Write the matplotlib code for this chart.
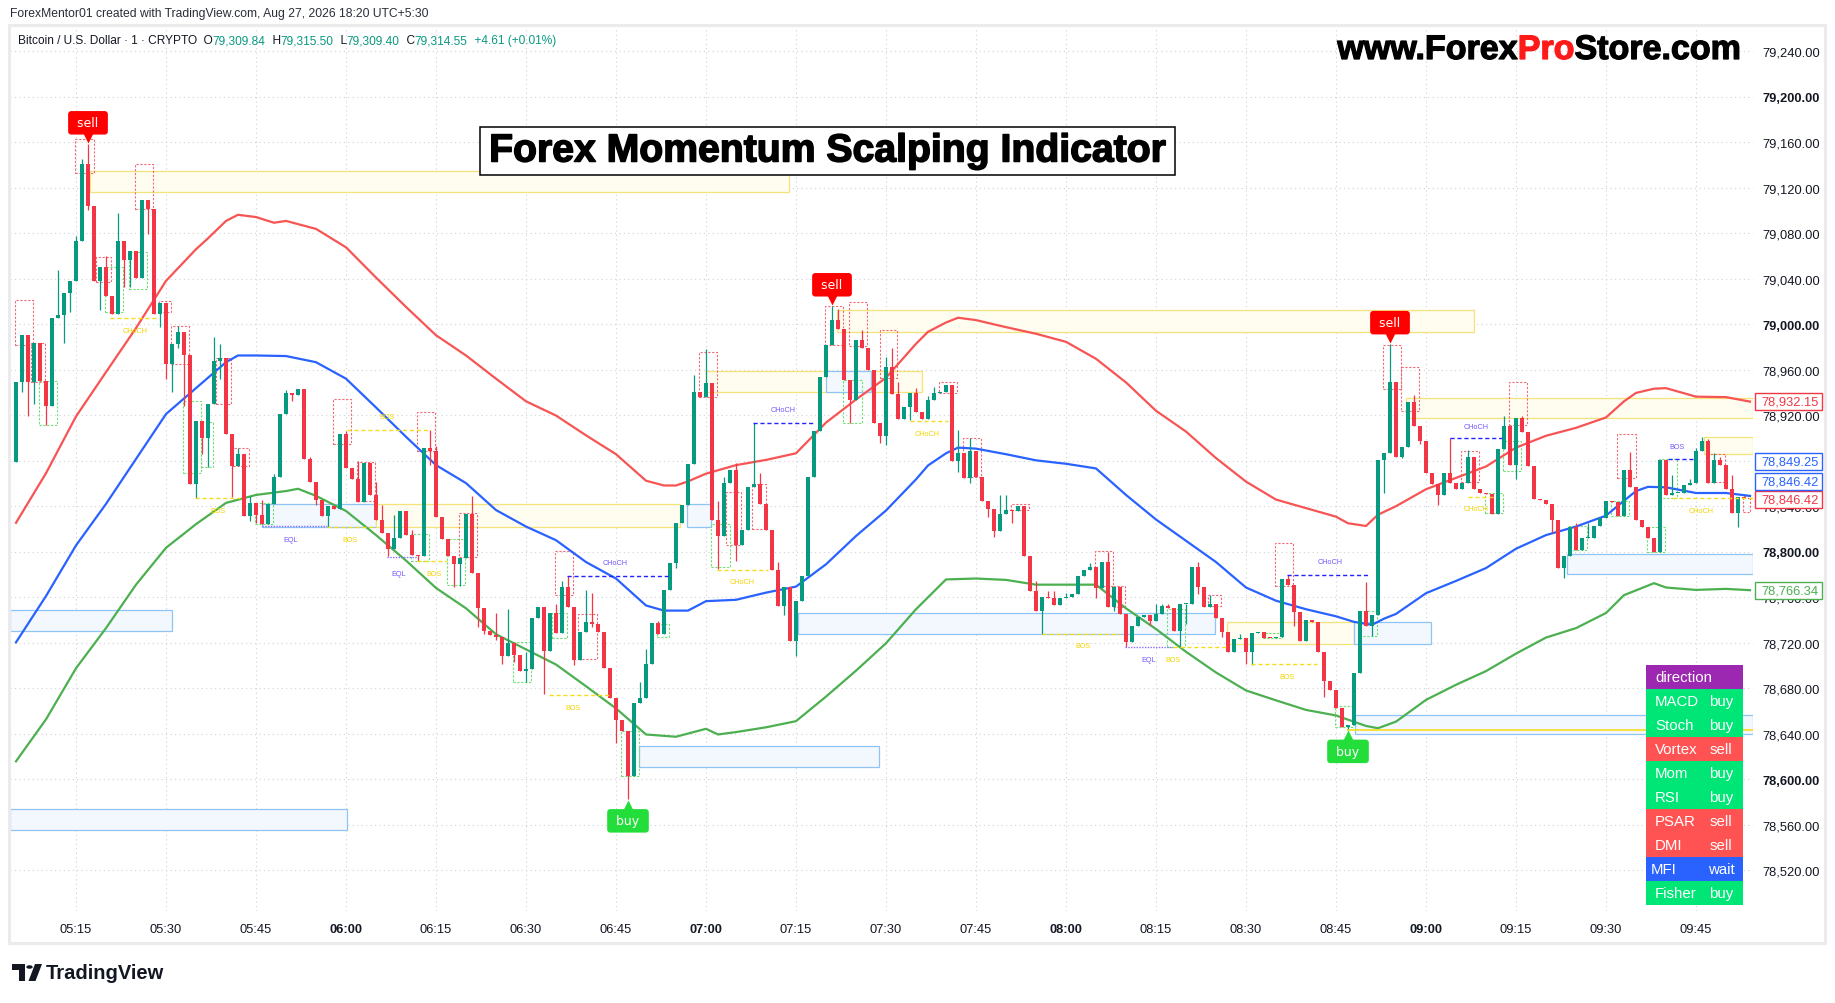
import matplotlib
matplotlib.use("Agg")
import matplotlib.pyplot as plt
import matplotlib.transforms as mtransforms
import matplotlib.patheffects as pe
from matplotlib.patches import Rectangle, Polygon, Circle

plt.rcParams['font.family'] = ['Liberation Sans Narrow', 'Liberation Sans', 'DejaVu Sans']

# ---------------------------------------------------------------- data
first_bar = -10            # bar index of the first candle (0 = 05:15, 1 bar = 1 minute)
first_open = 78879.2

closes = [
    78949.0, 78990.5, 78949.0, 78983.5, 78950.2, 78928.2, 79005.9, 79008.0, 79027.9, 79038.3,
    79073.6, 79141.3, 79104.3, 79037.9, 79050.7, 79024.6, 79009.2, 79073.6, 79057.0, 79064.5,
    79041.2, 79109.7, 79101.8, 79009.2, 79018.8, 78965.6, 78983.0, 78993.0, 78972.7, 78859.7,
    78914.9, 78900.4, 78930.3, 78967.7, 78970.2, 78904.1, 78875.5, 78885.9, 78831.4, 78842.6,
    78832.7, 78824.4, 78842.2, 78865.9, 78921.6, 78939.4, 78938.2, 78942.8, 78881.3, 78861.8,
    78846.0, 78831.4, 78840.2, 78837.7, 78903.3, 78874.2, 78863.8, 78844.3, 78878.4, 78850.1,
    78828.5, 78816.9, 78802.8, 78811.9, 78836.0, 78815.2, 78797.4, 78796.1, 78891.7, 78888.8,
    78830.6, 78811.1, 78796.1, 78789.1, 78794.5, 78833.5, 78781.6, 78750.9, 78730.9, 78726.8,
    78725.5, 78708.9, 78719.7, 78709.3, 78695.6, 78697.3, 78742.1, 78751.3, 78713.1, 78746.3,
    78728.8, 78769.5, 78751.7, 78704.8, 78729.7, 78738.0, 78736.3, 78729.7, 78697.7, 78671.9,
    78652.0, 78642.4, 78603.0, 78667.4, 78671.5, 78701.8, 78737.2, 78728.0, 78766.2, 78790.3,
    78825.6, 78841.0, 78877.5, 78940.7, 78936.5, 78948.2, 78828.5, 78814.0, 78860.9, 78872.1,
    78805.7, 78819.4, 78856.8, 78859.7, 78841.8, 78819.4, 78784.1, 78752.5, 78769.1, 78721.8,
    78757.1, 78778.7, 78865.9, 78906.6, 78954.0, 78982.2, 79004.2, 78995.9, 78951.1, 78933.2,
    78986.4, 78978.9, 78960.2, 78913.3, 78901.6, 78962.7, 78938.6, 78916.6, 78927.4, 78939.8,
    78923.2, 78916.6, 78933.6, 78939.8, 78940.7, 78946.9, 78879.6, 78886.7, 78864.7, 78888.8,
    78865.9, 78845.1, 78837.7, 78818.2, 78833.5, 78836.8, 78836.0, 78840.2, 78796.1, 78765.4,
    78748.4, 78760.8, 78759.2, 78752.9, 78759.2, 78760.8, 78763.3, 78778.7, 78784.1, 78787.0,
    78768.3, 78791.1, 78751.7, 78769.5, 78745.5, 78720.5, 78735.1, 78742.6, 78744.2, 78739.2,
    78745.5, 78752.5, 78750.4, 78730.9, 78753.8, 78754.6, 78787.0, 78769.5, 78751.7, 78754.6,
    78742.1, 78729.7, 78712.2, 78723.4, 78724.7, 78712.2, 78728.8, 78729.7, 78724.7, 78724.3,
    78725.5, 78776.6, 78771.2, 78747.5, 78721.4, 78740.5, 78738.0, 78712.2, 78686.5, 78679.0,
    78663.2, 78645.8, 78647.8, 78693.5, 78748.4, 78735.1, 78744.2, 78880.5, 78886.7, 78949.8,
    78883.8, 78892.1, 78931.5, 78910.8, 78897.1, 78869.2, 78859.7, 78850.1, 78869.2, 78860.9,
    78855.5, 78860.5, 78883.8, 78855.1, 78851.4, 78851.0, 78833.5, 78890.8, 78910.8, 78876.3,
    78917.8, 78905.4, 78875.9, 78846.4, 78846.0, 78841.8, 78827.7, 78785.8, 78796.1, 78821.5,
    78801.5, 78811.9, 78812.3, 78823.1, 78829.8, 78845.1, 78844.3, 78831.4, 78872.1, 78856.8,
    78828.5, 78821.5, 78811.9, 78799.5, 78880.5, 78850.1, 78851.4, 78852.2, 78858.4, 78860.5,
    78888.8, 78897.1, 78860.9, 78880.5, 78876.3, 78855.5, 78833.9, 78848.5, 78847.2, 78846.42,
]

wick_highs = {
    -3: 79047.8, 0: 79077.7, 1: 79145.5, 2: 79158.7, 5: 79059.9, 7: 79097.7, 17: 78998.8,
    23: 78988.9, 24: 78982.6, 27: 78891.7, 29: 78849.3, 31: 78846.0, 33: 78868.8, 35: 78942.1,
    39: 78883.8, 45: 78906.6, 47: 78880.0, 50: 78861.8, 51: 78841.0, 53: 78832.7, 56: 78819.4,
    59: 78907.4, 60: 78892.9, 66: 78849.3, 70: 78746.3, 72: 78749.6, 75: 78712.2, 80: 78753.8,
    81: 78774.5, 82: 78778.7, 85: 78766.2, 86: 78764.1, 94: 78685.2, 95: 78714.3, 97: 78739.2,
    103: 78955.2, 105: 78978.1, 107: 78845.1, 108: 78865.9, 110: 78878.4, 113: 78913.7,
    114: 78869.2, 117: 78791.1, 126: 79016.3, 127: 79013.4, 131: 78994.7, 135: 78971.8,
    136: 78978.9, 137: 78949.0, 140: 78944.0, 142: 78937.4, 143: 78944.8, 147: 78907.4,
    149: 78900.0, 154: 78850.1, 155: 78850.1, 160: 78774.5, 162: 78765.4, 163: 78765.4,
    165: 78764.1, 169: 78790.3, 172: 78800.3, 180: 78753.8, 181: 78754.6, 182: 78754.6,
    187: 78791.1, 189: 78762.1, 194: 78727.6, 202: 78779.5, 215: 78773.7, 219: 78983.0,
    223: 78937.8, 229: 78900.0, 232: 78889.6, 238: 78919.1, 241: 78919.9, 250: 78825.6,
    252: 78825.6, 259: 78887.5, 266: 78868.0, 269: 78863.8, 270: 78891.7, 271: 78900.8,
    272: 78899.1, 273: 78886.7, 274: 78883.8, 276: 78867.2,
}
wick_lows = {
    -9: 78940.7, -8: 78919.1, -7: 78930.3, -5: 78911.6, -2: 78983.9, -1: 79011.3, 2: 79100.2,
    4: 79013.0, 8: 79032.9, 9: 79032.9, 12: 79079.8, 14: 78997.6, 15: 78952.3, 16: 78940.7,
    17: 78979.3, 18: 78928.2, 20: 78847.2, 21: 78885.9, 22: 78875.0, 24: 78952.3, 26: 78848.5,
    29: 78827.3, 30: 78825.6, 36: 78932.4, 40: 78841.0, 42: 78822.3, 52: 78796.1, 57: 78792.0,
    59: 78876.3, 63: 78769.1, 64: 78770.4, 67: 78733.8, 68: 78727.6, 70: 78722.6, 71: 78701.4,
    73: 78703.1, 75: 78685.2, 78: 78674.8, 83: 78700.6, 86: 78733.8, 90: 78632.1, 92: 78582.6,
    100: 78786.2, 107: 78784.9, 110: 78792.0, 118: 78744.2, 120: 78708.1, 129: 78913.7,
    134: 78895.8, 135: 78894.2, 139: 78915.8, 147: 78870.1, 149: 78860.9, 152: 78830.6,
    153: 78812.7, 156: 78825.6, 161: 78727.6, 170: 78759.2, 173: 78748.4, 175: 78716.4,
    179: 78735.9, 184: 78716.4, 185: 78736.3, 187: 78762.9, 191: 78725.5, 195: 78701.8,
    196: 78700.6, 203: 78735.1, 208: 78672.8, 212: 78643.7, 216: 78726.3, 218: 78852.2,
    221: 78882.5, 224: 78895.0, 227: 78841.0, 240: 78863.8, 246: 78816.9, 248: 78777.4,
    277: 78822.3,
}

# band readings: bar index -> price
upper_idx = [-10, -5, 0, 5, 10, 15, 20, 22, 25, 27, 30, 33, 35, 40, 45, 50, 55, 60, 65, 70, 75, 80, 85, 90,
             95, 98, 100, 102, 105, 110, 115, 120, 125, 130, 135, 140, 142, 145, 147, 150, 155, 160, 165,
             170, 175, 180, 185, 190, 195, 200, 205, 210, 212, 215, 217, 220, 225, 230, 235, 240, 245,
             250, 255, 258, 260, 263, 265, 270, 275, 279]
upper_band = [78825.6, 78869.2, 78919.1, 78958.1, 78996.8, 79038.3, 79066.1, 79075.7, 79091.0, 79096.4,
              79094.4, 79089.4, 79091.0, 79084.0, 79067.8, 79041.2, 79015.4, 78990.5, 78972.7, 78952.3,
              78932.4, 78919.9, 78902.5, 78885.9, 78862.6, 78858.4, 78858.4, 78862.0, 78868.8, 78876.3,
              78880.9, 78886.7, 78913.7, 78934.0, 78953.1, 78983.0, 78993.5, 79001.7, 79005.9, 79003.8,
              78997.6, 78991.8, 78984.7, 78969.8, 78949.0, 78924.1, 78905.8, 78882.5, 78861.8, 78846.0,
              78838.5, 78831.0, 78825.2, 78822.8, 78832.7, 78840.2, 78855.1, 78865.1, 78875.1, 78891.7,
              78902.1, 78909.1, 78918.2, 78932.4, 78939.8, 78943.5, 78944.0, 78936.5, 78936.1, 78932.15]
middle_idx = [-10, -5, 0, 5, 10, 15, 20, 25, 27, 30, 35, 40, 45, 50, 55, 60, 65, 70, 75, 80, 85, 90, 95,
              98, 102, 105, 110, 115, 120, 125, 130, 135, 140, 142, 145, 147, 150, 155, 160, 165, 170,
              175, 180, 185, 190, 195, 200, 205, 210, 213, 216, 218, 220, 225, 230, 235, 240, 245, 250,
              255, 258, 260, 262, 265, 270, 275, 279]
middle_band = [78720.5, 78761.2, 78805.7, 78842.2, 78881.7, 78921.2, 78944.0, 78966.8, 78972.7, 78972.7,
               78972.2, 78966.8, 78952.3, 78927.0, 78901.2, 78876.3, 78860.5, 78836.8, 78822.3, 78810.3,
               78791.1, 78776.6, 78752.9, 78748.4, 78748.4, 78756.7, 78757.9, 78764.2, 78769.5, 78789.1,
               78814.0, 78836.4, 78863.8, 78876.0, 78886.7, 78891.7, 78890.8, 78885.9, 78880.5, 78877.5,
               78873.4, 78850.1, 78828.5, 78809.8, 78791.1, 78768.7, 78757.1, 78749.6, 78743.4, 78738.5,
               78735.9, 78741.3, 78745.5, 78763.7, 78774.5, 78785.8, 78802.8, 78814.8, 78822.3, 78831.9,
               78845.0, 78853.5, 78857.2, 78856.8, 78851.8, 78851.8, 78849.25]
lower_idx = [-10, -5, 0, 5, 10, 15, 20, 25, 30, 35, 37, 40, 45, 50, 55, 60, 65, 70, 75, 80, 85, 90, 95,
             100, 105, 107, 110, 115, 120, 125, 130, 135, 140, 145, 150, 155, 160, 165, 170, 175, 180,
             185, 190, 195, 200, 205, 210, 215, 217, 220, 225, 230, 235, 240, 245, 250, 255, 258, 260,
             263, 265, 270, 275, 279]
lower_band = [78615.9, 78652.8, 78697.7, 78733.0, 78771.2, 78803.6, 78824.4, 78843.1, 78850.1, 78853.5,
              78855.5, 78849.3, 78836.0, 78814.8, 78792.4, 78768.3, 78750.4, 78727.6, 78714.3, 78701.0,
              78681.9, 78662.4, 78639.5, 78637.5, 78644.5, 78639.5, 78641.6, 78645.8, 78651.2, 78672.8,
              78695.6, 78719.7, 78749.6, 78775.8, 78776.6, 78775.4, 78771.2, 78771.2, 78771.2, 78750.4,
              78732.2, 78712.2, 78694.0, 78678.2, 78669.5, 78661.1, 78656.2, 78647.0, 78645.0, 78650.8,
              78669.9, 78683.2, 78695.2, 78710.6, 78724.7, 78733.0, 78746.3, 78762.0, 78766.2, 78772.5,
              78768.7, 78766.6, 78767.5, 78766.34]

time_ticks = [0, 15, 30, 45, 60, 75, 90, 105, 120, 135, 150, 165, 180, 195, 210, 225, 240, 255, 270]
time_labels = ["05:15", "05:30", "05:45", "06:00", "06:15", "06:30", "06:45", "07:00", "07:15", "07:30",
               "07:45", "08:00", "08:15", "08:30", "08:45", "09:00", "09:15", "09:30", "09:45"]
price_ticks = [78520, 78560, 78600, 78640, 78680, 78720, 78760, 78800, 78840, 78880,
               78920, 78960, 79000, 79040, 79080, 79120, 79160, 79200, 79240]

sell_signals = [2, 126, 219]
buy_signals = [92, 212]

# supply / demand zones: (bar from, bar to, top price, bottom price, kind)
zones = [
    (2.3, 118.8, 79134.7, 79116.4, 'y'),
    (105.0, 141.0, 78959.4, 78940.7, 'y'),
    (126.8, 233.0, 79012.5, 78993.4, 'y'),
    (125.0, 132.5, 78959.4, 78940.7, 'b'),
    (101.9, 105.8, 78841.8, 78822.3, 'b'),
    (31.0, 50.0, 78841.8, 78822.3, 'b'),
    (50.0, 100.7, 78841.8, 78822.3, 'y'),
    (-11.0, 16.0, 78748.8, 78730.1, 'b'),
    (-11.0, 45.1, 78573.9, 78555.2, 'b'),
    (93.8, 133.8, 78629.2, 78610.5, 'b'),
    (120.4, 189.8, 78746.3, 78727.6, 'b'),
    (191.8, 213.0, 78738.0, 78719.3, 'y'),
    (213.0, 225.9, 78738.0, 78719.3, 'b'),
    (248.5, 279.5, 78798.2, 78780.8, 'b'),
    (221.6, 279.5, 78935.7, 78917.8, 'y'),
    (271.4, 279.5, 78901.2, 78885.9, 'y'),
    (213.1, 279.5, 78657.0, 78639.5, 'b'),
]

# candle pattern boxes: (bar from, bar to, top, bottom, kind r=bearish g=bullish)
pattern_boxes = [
    (-10.2, -7.1, 79021.7, 78982.2, 'r'), (-0.1, 3.0, 79162.9, 79133.0, 'r'),
    (9.8, 12.9, 79140.9, 79101.8, 'r'), (3.3, 5.9, 79059.5, 79037.0, 'r'),
    (-7.5, -5.1, 78983.5, 78949.0, 'r'), (15.9, 18.9, 78998.8, 78965.6, 'r'),
    (23.4, 25.9, 78970.6, 78930.3, 'r'), (26.2, 28.9, 78891.7, 78875.5, 'r'),
    (42.9, 45.9, 78934.4, 78895.0, 'r'), (46.9, 49.9, 78879.2, 78845.1, 'r'),
    (56.9, 59.9, 78923.2, 78888.8, 'r'), (13.9, 15.9, 79020.8, 79011.3, 'r'),
    (-6.1, -3.1, 78950.2, 78911.6, 'g'), (4.9, 7.9, 79050.7, 79011.3, 'g'),
    (8.9, 11.9, 79064.0, 79030.8, 'g'), (17.9, 20.9, 78932.4, 78869.2, 'g'),
    (20.9, 22.9, 78914.5, 78875.0, 'g'), (29.9, 32.9, 78843.1, 78824.4, 'g'),
    (55.9, 58.9, 78816.1, 78792.0, 'g'),
    (63.9, 66.9, 78833.9, 78795.3, 'r'), (79.8, 82.9, 78800.7, 78762.1, 'r'),
    (83.7, 86.9, 78745.5, 78706.0, 'r'), (103.9, 106.9, 78976.0, 78936.5, 'r'),
    (112.6, 115.0, 78859.7, 78820.2, 'r'), (124.8, 127.9, 79016.3, 78982.2, 'r'),
    (128.9, 131.9, 79019.6, 78981.4, 'r'), (108.4, 110.9, 78852.6, 78805.7, 'r'),
    (61.9, 64.9, 78811.1, 78771.2, 'g'), (72.9, 75.9, 78720.5, 78685.2, 'g'),
    (79.3, 81.9, 78746.7, 78724.7, 'g'), (90.9, 93.9, 78642.9, 78603.0, 'g'),
    (105.9, 109.0, 78824.4, 78787.0, 'g'), (127.9, 131.0, 78951.1, 78913.7, 'g'),
    (96.8, 98.9, 78736.3, 78725.5, 'g'),
    (134.0, 136.9, 78994.7, 78953.1, 'r'), (143.9, 146.9, 78949.0, 78939.4, 'r'),
    (147.9, 150.9, 78900.4, 78865.9, 'r'), (155.8, 158.9, 78841.8, 78836.8, 'r'),
    (169.8, 172.9, 78800.7, 78770.4, 'r'), (172.9, 174.9, 78770.4, 78751.7, 'r'),
    (188.7, 190.9, 78762.1, 78752.5, 'r'), (199.8, 202.9, 78807.8, 78770.4, 'r'),
    (181.8, 184.9, 78749.6, 78716.4, 'g'), (197.9, 201.0, 78728.8, 78724.7, 'g'),
    (217.9, 220.9, 78982.2, 78942.8, 'r'), (220.9, 223.9, 78962.7, 78924.1, 'r'),
    (230.8, 233.9, 78888.8, 78861.8, 'r'), (238.9, 241.9, 78949.8, 78911.6, 'r'),
    (256.9, 260.0, 78904.1, 78864.7, 'r'), (271.9, 274.9, 78885.9, 78861.8, 'r'),
    (277.9, 279.0, 78849.3, 78834.8, 'r'),
    (209.9, 212.9, 78664.5, 78645.8, 'g'), (213.9, 216.9, 78748.4, 78725.9, 'g'),
    (234.9, 237.9, 78851.4, 78833.9, 'g'), (237.9, 240.9, 78897.1, 78871.3, 'g'),
    (248.9, 251.9, 78823.1, 78801.5, 'g'), (261.9, 264.9, 78822.3, 78799.5, 'g'),
    (263.9, 266.9, 78881.3, 78847.2, 'g'), (255.9, 258.9, 78845.1, 78831.4, 'g'),
]

# market structure: (bar from, bar to, price, kind, label, label bar, label price)
structure = [
    (5.7, 13.7, 79005.9, 'y', 'CHoCH', 9.8, 78994.7),
    (19.8, 27.3, 78847.2, 'y', 'BOS', 23.7, 78836.8),
    (31.0, 41.8, 78823.1, 'e', 'EQL', 35.7, 78811.1),
    (41.8, 50.0, 78822.3, 'y', 'BOS', 45.7, 78811.1),
    (45.1, 59.0, 78907.4, 'y', 'BOS', 51.8, 78919.1),
    (51.8, 56.8, 78795.3, 'e', 'EQL', 53.7, 78781.1),
    (56.8, 61.8, 78792.0, 'y', 'BOS', 59.7, 78781.1),
    (78.9, 88.9, 78674.0, 'y', 'BOS', 82.8, 78663.6),
    (81.9, 98.7, 78778.7, 'b', 'CHoCH', 89.9, 78790.6),
    (112.9, 122.9, 78913.7, 'b', 'CHoCH', 117.9, 78925.3),
    (106.8, 115.4, 78784.1, 'y', 'CHoCH', 111.0, 78773.7),
    (139.0, 145.4, 78914.9, 'y', 'CHoCH', 141.9, 78904.5),
    (161.0, 174.0, 78727.6, 'y', 'BOS', 167.8, 78717.8),
    (174.8, 182.9, 78716.6, 'e', 'EQL', 178.8, 78705.8),
    (182.9, 191.8, 78716.6, 'y', 'BOS', 182.8, 78705.8),
    (195.9, 206.8, 78701.2, 'y', 'BOS', 201.8, 78690.6),
    (201.9, 215.7, 78780.0, 'b', 'CHoCH', 209.0, 78791.3),
    (229.0, 237.6, 78900.0, 'b', 'CHoCH', 233.3, 78910.4),
    (232.0, 236.5, 78848.0, 'y', 'CHoCH', 233.3, 78838.5),
    (265.4, 269.6, 78881.3, 'b', 'BOS', 266.8, 78892.5),
    (266.0, 279.5, 78847.2, 'y', 'CHoCH', 270.8, 78836.0),
]
level_line = (211.8, 279.5, 78643.7)

table_rows = [("direction", ""), ("MACD", "buy"), ("Stoch", "buy"), ("Vortex", "sell"),
              ("Mom", "buy"), ("RSI", "buy"), ("PSAR", "sell"), ("DMI", "sell"),
              ("MFI", "wait"), ("Fisher", "buy")]

header_symbol = "Bitcoin / U.S. Dollar \u00b7 1 \u00b7 CRYPTO"
ohlc_values = ["79,309.84", "79,315.50", "79,309.40", "79,314.55"]
change_text = "+4.61 (+0.01%)"
last_upper, last_middle, last_middle2, last_close, last_lower = 78932.15, 78849.25, 78846.42, 78846.42, 78766.34

# ---------------------------------------------------------------- figure
W, H, DPI = 1835, 1004, 100
fig = plt.figure(figsize=(W / DPI, H / DPI), dpi=DPI)
fig.patch.set_facecolor('white')


def fx(x):
    return x / W


def fy(y):
    return 1 - y / H


def px_rect(x0, y0, x1, y1, **kw):
    return Rectangle((fx(x0), fy(y1)), (x1 - x0) / W, (y1 - y0) / H, transform=fig.transFigure, **kw)


AX_L, AX_R, AX_T, AX_B = 10, 1753, 28, 912
ax = fig.add_axes([fx(AX_L), fy(AX_B), (AX_R - AX_L) / W, (AX_B - AX_T) / H])
ax.set_facecolor('white')
ax.set_xlim(-11, 279.5)
ax.set_ylim(78484.3, 79261.5)
for s in ax.spines.values():
    s.set_visible(False)

ax.set_yticks(price_ticks)
ax.set_xticks(time_ticks)
ax.grid(True, color='#cfd2d8', linestyle=(0, (1, 3)), linewidth=0.8)
ax.set_axisbelow(True)
ax.yaxis.tick_right()
ax.set_yticklabels([f"{p:,.2f}" for p in price_ticks])
ax.set_xticklabels(time_labels)
ax.tick_params(axis='y', length=0, pad=6.5, labelsize=9.3, labelcolor='#131722')
ax.tick_params(axis='x', length=0, pad=9, labelsize=9.3, labelcolor='#131722')
for lab, p in zip(ax.get_yticklabels(), price_ticks):
    if p % 200 == 0:
        lab.set_fontweight('bold')
for lab in ax.get_xticklabels():
    if lab.get_text().endswith(":00"):
        lab.set_fontweight('bold')

# zones
for i0, i1, top, bot, kind in zones:
    if kind == 'y':
        fc, ec = '#fffdf0', '#f6e27a'
    else:
        fc, ec = '#f3f8ff', '#8ec5f4'
    ax.add_patch(Rectangle((i0, bot), i1 - i0, top - bot, facecolor=fc, edgecolor=ec,
                           linewidth=0.9, zorder=1))

# pattern boxes
for i0, i1, top, bot, kind in pattern_boxes:
    ec = '#f06a76' if kind == 'r' else '#6ee06e'
    ax.add_patch(Rectangle((i0, bot), i1 - i0, top - bot, fill=False, edgecolor=ec,
                           linewidth=0.8, linestyle=(0, (2, 1.5)), zorder=2))

# bands
ax.plot(upper_idx, upper_band, color='#f75454', lw=1.6, zorder=3, solid_joinstyle='round')
ax.plot(middle_idx, middle_band, color='#2962ff', lw=1.6, zorder=3, solid_joinstyle='round')
ax.plot(lower_idx, lower_band, color='#4caf50', lw=1.6, zorder=3, solid_joinstyle='round')

# candles
opens = [first_open] + closes[:-1]
xs, bottoms, heights, cols, his, los = [], [], [], [], [], []
for k, (o, c) in enumerate(zip(opens, closes)):
    i = first_bar + k
    up = c >= o
    col = '#089981' if up else '#f23645'
    lo_b, hi_b = min(o, c), max(o, c)
    xs.append(i)
    bottoms.append(lo_b)
    heights.append(max(hi_b - lo_b, 0.9))
    cols.append(col)
    his.append(max(wick_highs.get(i, hi_b), hi_b))
    los.append(min(wick_lows.get(i, lo_b), lo_b))
ax.vlines(xs, los, his, colors=cols, linewidth=0.9, zorder=4)
ax.bar(xs, heights, bottom=bottoms, width=0.74, color=cols, linewidth=0, zorder=4)

# structure
for i0, i1, p, kind, lab, li, lp in structure:
    if kind == 'y':
        lc, ls, tc = '#f7dc1e', (0, (3, 2)), '#f2d400'
    elif kind == 'b':
        lc, ls, tc = '#2222ff', (0, (3, 2)), '#7158ff'
    else:
        lc, ls, tc = '#8a6cff', (0, (1, 1)), '#7158ff'
    ax.hlines(p, i0, i1, colors=lc, linestyles=[ls], linewidth=1.0, zorder=5)
    ax.text(li, lp, lab, color=tc, fontsize=5.2, ha='center', va='center', zorder=5,
            family=['Liberation Sans', 'DejaVu Sans'])
ax.hlines(level_line[2], level_line[0], level_line[1], colors='#f7dc1e', linewidth=1.2, zorder=5)

# signals
idx_high = dict(zip(xs, his))
idx_low = dict(zip(xs, los))
for i in sell_signals:
    h = idx_high[i]
    ax.plot([i], [h], marker='v', ms=7, color='#ff0000', mec='none', zorder=7,
            transform=mtransforms.offset_copy(ax.transData, fig=fig, x=0, y=5.5, units='dots'))
    ax.annotate(' sell ', xy=(i, h), xytext=(0, 15.2), textcoords='offset points', ha='center',
                va='center', color='white', fontsize=9.0, zorder=8, family=['DejaVu Sans'],
                bbox=dict(boxstyle='round,pad=0.42,rounding_size=0.25', fc='#ff0000', ec='none'))
for i in buy_signals:
    lo = idx_low[i]
    ax.plot([i], [lo], marker='^', ms=7, color='#22dd3a', mec='none', zorder=7,
            transform=mtransforms.offset_copy(ax.transData, fig=fig, x=0, y=-5.5, units='dots'))
    ax.annotate(' buy ', xy=(i, lo), xytext=(0, -15.6), textcoords='offset points', ha='center',
                va='center', color='white', fontsize=9.0, zorder=8, family=['DejaVu Sans'],
                bbox=dict(boxstyle='round,pad=0.42,rounding_size=0.25', fc='#22dd3a', ec='none'))

# price tags on the scale
ax_w_px = AX_R - AX_L
ppu = (AX_B - AX_T) / (ax.get_ylim()[1] - ax.get_ylim()[0])
blend = mtransforms.blended_transform_factory(ax.transAxes, ax.transData)
tags = [(last_upper, '#f23645', 0), (last_lower, '#4caf50', 0), (last_close, '#f23645', 0),
        (last_middle2, '#2962ff', 18), (last_middle, '#2962ff', 34)]
for p, col, up_px in tags:
    yc = p + up_px / ppu
    ax.add_patch(Rectangle((1 + 2 / ax_w_px, yc - 8.5 / ppu), 67 / ax_w_px, 17 / ppu, transform=blend,
                           facecolor='white', edgecolor=col, linewidth=1.0, clip_on=False, zorder=20))
    ax.text(1 + 8 / ax_w_px, yc, f"{p:,.2f}", transform=blend, color=col, fontsize=9.3,
            ha='left', va='center', clip_on=False, zorder=21)

# ---------------------------------------------------------------- figure-level decorations
fig.add_artist(px_rect(9, 26, 1825, 944, fill=False, edgecolor='#ebebee', linewidth=2.2))

renderer = fig.canvas.get_renderer()


def seq_text(x_px, y_px, pieces, **kw):
    x = x_px
    for s, col in pieces:
        t = fig.text(fx(x), fy(y_px), s, color=col, ha='left', **kw)
        x += t.get_window_extent(renderer=renderer).width
    return x


def text_width(s, **kw):
    t = fig.text(0, 0, s, **kw)
    w = t.get_window_extent(renderer=renderer).width
    t.remove()
    return w


fig.text(fx(10), fy(14), "ForexMentor01 created with TradingView.com, Aug 27, 2026 18:20 UTC+5:30",
         fontsize=8.7, color='#2a2e39', va='center', ha='left')

dark, teal = '#131722', '#089981'
seq_text(18, 41, [(header_symbol + "  O", dark), (ohlc_values[0], teal), ("  H", dark), (ohlc_values[1], teal),
                  ("  L", dark), (ohlc_values[2], teal), ("  C", dark), (ohlc_values[3], teal),
                  ("  " + change_text, teal)], fontsize=8.6, va='center')

# website
site_kw = dict(fontsize=24.5, fontweight='bold', family=['Liberation Sans', 'DejaVu Sans'], va='baseline')
site_pieces = [("www.Forex", '#000000'), ("Pro", '#ff1a1a'), ("Store.com", '#000000')]
total = sum(text_width(s, **site_kw) for s, _ in site_pieces)
xx = 1741 - total
for s, col in site_pieces:
    t = fig.text(fx(xx), fy(60), s, color=col, ha='left', **site_kw)
    t.set_path_effects([pe.withStroke(linewidth=0.9, foreground=col)])
    xx += text_width(s, **site_kw)

# title box
fig.add_artist(px_rect(480, 128, 1175, 176, facecolor='white', edgecolor='black', linewidth=1.1, zorder=5))
tt = fig.text(fx(827), fy(162.5), "Forex Momentum Scalping Indicator", fontsize=28.2, fontweight='bold',
              family=['Liberation Sans', 'DejaVu Sans'], ha='center', va='baseline', color='black', zorder=6)
tt.set_path_effects([pe.withStroke(linewidth=1.1, foreground='black')])

# indicator table
row_colors = {"": '#9c27b0', "buy": '#00e676', "sell": '#ff5252', "wait": '#2962ff'}
TX0, TX1, TY0, RH = 1646, 1743, 666, 24
for r, (name, val) in enumerate(table_rows):
    y0 = TY0 + r * RH
    fig.add_artist(px_rect(TX0, y0, TX1, y0 + RH, facecolor=row_colors[val], edgecolor='none', zorder=3))
    lx = 1651 if name == "MFI" else 1655
    fig.text(fx(lx), fy(y0 + RH / 2), name, color='white', fontsize=10.8, ha='left', va='center',
             family=['Liberation Sans', 'DejaVu Sans'], zorder=4)
    if val:
        fig.text(fx(1721), fy(y0 + RH / 2), val, color='white', fontsize=10.8, ha='center', va='center',
                 family=['Liberation Sans', 'DejaVu Sans'], zorder=4)

# TradingView logo
fig.add_artist(px_rect(12, 965, 25, 971, facecolor='#131722', edgecolor='none'))
fig.add_artist(px_rect(19, 965, 25, 982, facecolor='#131722', edgecolor='none'))
fig.add_artist(Circle((fx(29.5), fy(968)), 3.2 / W, transform=fig.transFigure, facecolor='#131722',
                      edgecolor='none'))
fig.add_artist(Polygon([(fx(35), fy(965)), (fx(42), fy(965)), (fx(35.5), fy(982)), (fx(28.5), fy(982))],
                       closed=True, transform=fig.transFigure, facecolor='#131722', edgecolor='none'))
fig.text(fx(46), fy(973.5), "TradingView", fontsize=14.5, fontweight='bold', color='#131722',
         family=['Liberation Sans', 'DejaVu Sans'], ha='left', va='center')

fig.savefig('out.png', dpi=DPI, facecolor='white')
